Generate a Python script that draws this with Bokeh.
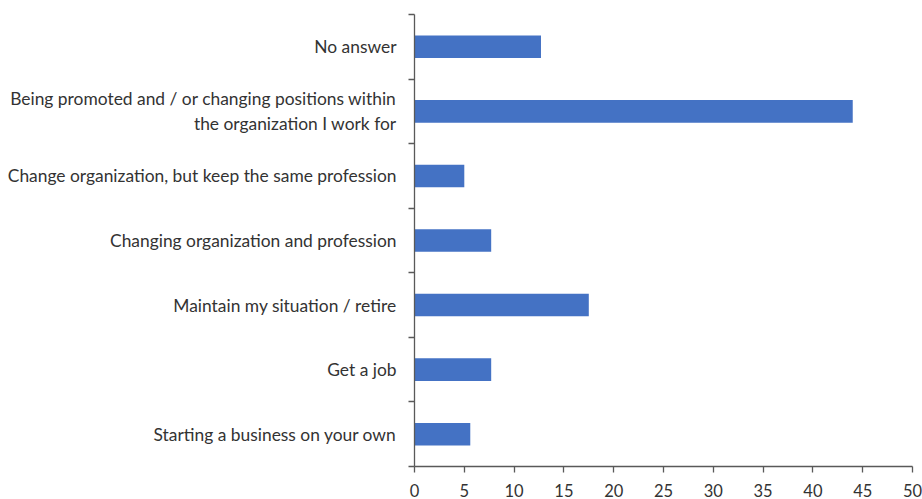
from bokeh.plotting import figure
from bokeh.models import ColumnDataSource, FixedTicker, Range1d
from bokeh.embed import file_html
from bokeh.resources import INLINE

# Survey answers, listed top to bottom
categories = [
    "No answer",
    "Being promoted and / or changing positions within\nthe organization I work for",
    "Change organization, but keep the same profession",
    "Changing organization and profession",
    "Maintain my situation / retire",
    "Get a job",
    "Starting a business on your own",
]
values = [12.7, 44.0, 5.0, 7.7, 17.5, 7.7, 5.6]
x_ticks = list(range(0, 51, 5))

n = len(categories)
# bottom-most category sits at y = 0.5
centers = [n - i - 0.5 for i in range(n)]
bounds = list(range(0, n + 1))

source = ColumnDataSource(dict(y=centers, right=values, label=categories))

FONT = "Lato"
TEXT = "#333333"
AXIS = "#595959"

p = figure(
    width=922, height=499,
    x_range=Range1d(0, 50), y_range=Range1d(0, n),
    output_backend="svg", toolbar_location=None,
    min_border_left=414, min_border_right=10,
    min_border_top=14, min_border_bottom=32,
)
p.outline_line_color = None
p.grid.grid_line_color = None
p.background_fill_color = "white"
p.border_fill_color = "white"

p.hbar(y="y", left=0, right="right", height=0.35, source=source,
       fill_color="#4472C4", line_color=None)

# x axis
xa = p.xaxis[0]
xa.ticker = FixedTicker(ticks=x_ticks)
xa.axis_line_color = AXIS
xa.axis_line_width = 1.3
xa.major_tick_line_color = AXIS
xa.major_tick_line_width = 1.3
xa.major_tick_in = 0
xa.major_tick_out = 6
xa.minor_tick_line_color = None
xa.major_label_text_font = FONT
xa.major_label_text_font_size = "16.5px"
xa.major_label_text_color = TEXT
xa.major_label_standoff = 11

# y axis: labels at bar centers, tick marks at category boundaries
ya = p.yaxis[0]
ya.ticker = FixedTicker(ticks=centers, minor_ticks=bounds)
ya.major_label_overrides = {c: lab for c, lab in zip(centers, categories)}
ya.axis_line_color = AXIS
ya.axis_line_width = 1.3
ya.major_tick_line_color = None
ya.minor_tick_line_color = AXIS
ya.minor_tick_line_width = 1.3
ya.minor_tick_in = 0
ya.minor_tick_out = 6
ya.major_tick_out = 0
ya.major_tick_in = 0
ya.major_label_text_font = FONT
ya.major_label_text_font_size = "17.4px"
ya.major_label_text_color = TEXT
ya.major_label_standoff = 12

open("out.html", "w").write(file_html(p, INLINE))
